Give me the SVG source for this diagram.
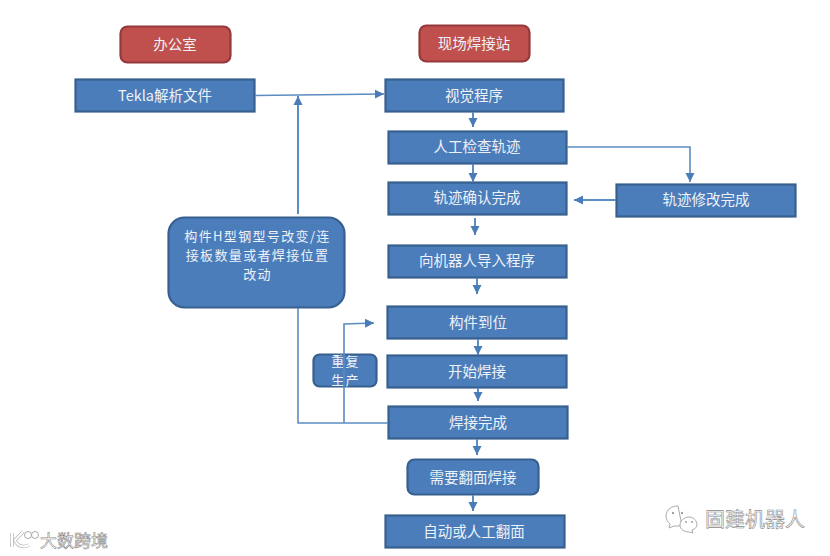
<svg xmlns="http://www.w3.org/2000/svg" width="830" height="556" viewBox="0 0 830 556">
<style>
text{font-family:"Noto Sans CJK SC","Noto Sans",sans-serif;text-anchor:middle}
.b rect{fill:#4c7dbb;stroke:#37608f;stroke-width:2.2}
.r rect{fill:#c0504d;stroke:#96393a;stroke-width:2.2}
.b text,.r text{fill:#eef2f7;font-size:14.5px}
.b text.m{font-size:13px;letter-spacing:1.35px}
.c path{fill:none;stroke:#5b8cc2;stroke-width:1.6}
.c path.t{stroke-width:2}
.wm{font-size:20px;fill:#fff;stroke:#8a8a8a;stroke-width:.6}
.ic{fill:#fff;stroke:#a0a0a0;stroke-width:.9}
.dot{fill:#a0a0a0}
</style>
<defs>
<marker id="a" markerUnits="userSpaceOnUse" markerWidth="10" markerHeight="10" refX="9" refY="5" orient="auto"><path d="M0,0.5L9,5L0,9.500Z" fill="#4a7cb8"/></marker>
</defs>
<g id="office" class="r"><rect x="120.500" y="26.500" width="110" height="36" rx="7"/><text x="175" y="50">办公室</text></g>
<g id="site" class="r"><rect x="419.500" y="25.500" width="110" height="36" rx="7"/><text x="474" y="49">现场焊接站</text></g>
<g id="tekla" class="b"><rect x="75.500" y="79.500" width="179" height="32"/><text x="165" y="101">Tekla解析文件</text></g>
<g id="vision" class="b"><rect x="385.500" y="79.500" width="178" height="32"/><text x="474" y="101">视觉程序</text></g>
<g id="check" class="b"><rect x="388.500" y="131.500" width="178" height="32"/><text x="477" y="152">人工检查轨迹</text></g>
<g id="confirm" class="b"><rect x="388.500" y="182.500" width="178" height="32"/><text x="477" y="203">轨迹确认完成</text></g>
<g id="modify" class="b"><rect x="616.500" y="184.500" width="179" height="32"/><text x="706" y="205">轨迹修改完成</text></g>
<g id="import" class="b"><rect x="388.500" y="245.500" width="178" height="32"/><text x="477" y="266">向机器人导入程序</text></g>
<g id="change" class="b"><rect x="168.500" y="217.500" width="176" height="90" rx="16"/><text class="m" x="257.500" y="241">构件H型钢型号改变/连</text><text class="m" x="257.500" y="260">接板数量或者焊接位置</text><text class="m" x="257.500" y="279">改动</text></g>
<g id="part" class="b"><rect x="387.500" y="306.500" width="179" height="32"/><text x="478" y="328">构件到位</text></g>
<g id="repeat" class="b"><rect x="313.500" y="354.500" width="63" height="32" rx="6"/><text class="m" x="345.500" y="366">重复</text><text class="m" x="345.500" y="385">生产</text></g>
<g id="start" class="b"><rect x="387.500" y="355.500" width="179" height="32"/><text x="477" y="377">开始焊接</text></g>
<g id="done" class="b"><rect x="388.500" y="406.500" width="179" height="32"/><text x="478" y="428">焊接完成</text></g>
<g id="flip" class="b"><rect x="407.500" y="459.500" width="131" height="35" rx="7"/><text x="473" y="483">需要翻面焊接</text></g>
<g id="auto" class="b"><rect x="385.500" y="515.500" width="179" height="32"/><text x="474" y="537">自动或人工翻面</text></g>
<g id="connectors" class="c">
<path marker-end="url(#a)" d="M255,95.500L384,94"/>
<path class="t" marker-end="url(#a)" d="M298,214V96"/>
<path d="M298,308V423H388"/>
<path marker-end="url(#a)" d="M344,423V324L374,323"/>
<path class="t" marker-end="url(#a)" d="M473,112V127"/>
<path class="t" marker-end="url(#a)" d="M473,164V182"/>
<path marker-end="url(#a)" d="M567,147H690V182"/>
<path class="t" marker-end="url(#a)" d="M616,200H574"/>
<path class="t" marker-end="url(#a)" d="M475,218V235"/>
<path class="t" marker-end="url(#a)" d="M477,278V294"/>
<path class="t" marker-end="url(#a)" d="M478,339V355"/>
<path class="t" marker-end="url(#a)" d="M478,388V401"/>
<path class="t" marker-end="url(#a)" d="M477,439V455"/>
<path class="t" marker-end="url(#a)" d="M473,495V511"/>
</g>
<g id="watermark-left">
<path d="M12,533V547M23,532L15,540C17,546 23,548 29,545" fill="none" stroke="#b8b8b8" stroke-width="3.500"/>
<path d="M12,533V547M23,532L15,540C17,546 23,548 29,545" fill="none" stroke="#fff" stroke-width="2"/>
<circle cx="28" cy="535" r="3.500" class="ic"/><circle cx="35" cy="535" r="3.500" class="ic"/>
<text class="wm" x="74" y="547" style="font-size:17px">大数跨境</text>
</g>
<g id="watermark-right">
<path class="ic" d="M678,506C671,506 666,510 666,516C666,520 668,522 670,524L669,528L674,526L682,526Z"/>
<circle class="dot" cx="673" cy="513" r="1.200"/><circle class="dot" cx="682" cy="513" r="1.200"/>
<path class="ic" d="M689,517C684,517 680,521 680,525C680,529 684,532 689,532L693,533L692,530C695,529 697,527 697,525C697,521 694,517 689,517Z"/>
<circle class="dot" cx="686" cy="522" r="1"/><circle class="dot" cx="692" cy="522" r="1"/>
<text class="wm" x="755" y="527">固建机器人</text>
</g>
</svg>
